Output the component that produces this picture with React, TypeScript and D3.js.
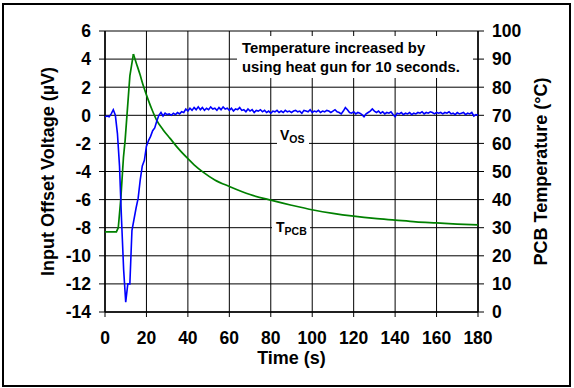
import React from "react";
import * as d3 from "d3";

const xTicks = [0, 20, 40, 60, 80, 100, 120, 140, 160, 180];
const leftTicks = [-14, -12, -10, -8, -6, -4, -2, 0, 2, 4, 6];
const rightTicks = [0, 10, 20, 30, 40, 50, 60, 70, 80, 90, 100];

// V_OS (µV), sampled every 1 s from 0 to 180 s
const vosValues = [
  -0.1, -0.05, -0.1, 0.1, 0.4, 0.0, -1.3, -3.6, -7.5, -11.0, -13.3, -12.0, -12.0, -8.2, -7.4, -6.6, -5.9, -4.6, -3.6, -3.2, -2.2, -1.8, -1.5, -1.1, -0.9, -0.4, 0.0, 0.2, -0.05, 0.15, 0.05,
  0.1, 0.0, 0.15, 0.05, 0.2, 0.1, 0.25, 0.2, 0.45, 0.3, 0.5, 0.35, 0.55, 0.4, 0.6,
  0.4, 0.55, 0.35, 0.5, 0.4, 0.6, 0.45, 0.5, 0.35, 0.55, 0.4, 0.6, 0.45, 0.5, 0.35,
  0.5, 0.3, 0.45, 0.4, 0.55, 0.35, 0.4, 0.25, 0.45, 0.3, 0.4, 0.2, 0.35, 0.3, 0.4,
  0.25, 0.35, 0.2, 0.3, 0.15, 0.3, 0.25, 0.35, 0.2, 0.3, 0.2, 0.35, 0.25, 0.3, 0.2,
  0.3, 0.35, 0.25, 0.3, 0.15, 0.35, 0.3, 0.25, 0.4, 0.2, 0.3, 0.25, 0.35, 0.2, 0.3,
  0.25, 0.35, 0.3, 0.2, 0.3, 0.4, 0.25, 0.2, 0.1, 0.3, 0.55, 0.4, 0.2, 0.15, 0.25,
  0.1, 0.2, 0.15, 0.05, -0.1, 0.1, 0.2, 0.3, 0.45, 0.3, 0.2, 0.3, 0.15, 0.25, 0.1,
  0.2, 0.15, 0.25, 0.05, -0.1, 0.15, 0.1, 0.2, 0.05, 0.15, 0.1, 0.2, 0.05, 0.15, 0.1,
  0.2, 0.15, 0.25, 0.1, 0.2, 0.15, 0.25, 0.2, 0.1, 0.2, 0.15, 0.2, 0.1, 0.2, 0.15,
  0.25, 0.1, 0.15, 0.05, 0.2, 0.1, 0.15, 0.2, 0.05, 0.15, 0.1, 0.2, -0.05, 0.05, 0.0,
];

// T_PCB (°C): heating phase and cooling phase (cooling starts at the peak)
const heatTimes = [0, 5.5, 6.4, 7.6, 8.9, 9.7, 12, 13.7];
const heatValues = [28.5, 28.5, 30, 40, 55, 61, 84, 91.8];
const coolTimes = [13.7, 15, 16.9, 18.5, 20.9, 22.8, 24.9, 28, 31.4, 35, 39.4, 43, 47.5, 53, 60.3, 70, 80, 90, 100.5, 110, 120, 130, 140, 150, 160, 170, 180];
const coolValues = [91.8, 88.8, 84.5, 80.5, 75.4, 71.8, 68.3, 64.9, 61.8, 58.5, 55.0, 52.4, 49.7, 47.0, 44.6, 41.8, 39.8, 38.0, 36.3, 35.1, 34.1, 33.3, 32.7, 32.1, 31.7, 31.3, 31.0];

const FONT = "'Liberation Sans', Arial, sans-serif";

export default function App() {
  const x = d3.scaleLinear().domain([0, 180]).range([105, 478]);
  const yL = d3.scaleLinear().domain([-14, 6]).range([312, 31]);
  const yR = d3.scaleLinear().domain([0, 100]).range([312, 31]);

  const vosData = vosValues.map((v, i) => [i, v] as [number, number]);
  const heatData = heatTimes.map((t, i) => [t, heatValues[i]] as [number, number]);
  const coolData = coolTimes.map((t, i) => [t, coolValues[i]] as [number, number]);

  const vosLine = d3.line<[number, number]>().x((d) => x(d[0])).y((d) => yL(d[1]));
  const heatLine = d3.line<[number, number]>().x((d) => x(d[0])).y((d) => yR(d[1]));
  const coolLine = d3.line<[number, number]>().x((d) => x(d[0])).y((d) => yR(d[1])).curve(d3.curveMonotoneX);

  const [x0, x1] = x.range();
  const yTop = yL(6);
  const yBot = yL(-14);

  return (
    <svg width={574} height={388} style={{ position: "absolute", left: 0, top: 0, background: "#fff" }} fontFamily={FONT} fontWeight="bold">
      <rect x={0} y={0} width={574} height={388} fill="#fff" />
      <rect x={3} y={4} width={567} height={382} fill="none" stroke="#000" strokeWidth={2} />

      {/* grid */}
      {leftTicks.map((t) => (
        <line key={"h" + t} x1={x0} x2={x1} y1={yL(t)} y2={yL(t)} stroke="#000" strokeWidth={1} />
      ))}
      {xTicks.map((t) => (
        <line key={"v" + t} x1={x(t)} x2={x(t)} y1={yTop} y2={yBot} stroke="#000" strokeWidth={1} />
      ))}

      {/* annotation box */}
      <rect x={237} y={36} width={236} height={42} fill="#fff" />
      <text x={242} y={52.5} fontSize={14.8} fill="#000">Temperature increased by</text>
      <text x={242} y={71.5} fontSize={14.8} fill="#000">using heat gun for 10 seconds.</text>

      {/* series labels */}
      <rect x={277} y={128} width={32} height={18} fill="#fff" />
      <text x={280} y={140} fontSize={14} fill="#000">
        V<tspan fontSize={10.5} dy={3}>OS</tspan>
      </text>
      <rect x={272} y={219} width={38} height={18} fill="#fff" />
      <text x={276} y={232} fontSize={14} fill="#000">
        T<tspan fontSize={10.5} dy={3}>PCB</tspan>
      </text>

      {/* axes */}
      <line x1={x0} x2={x0} y1={yTop} y2={yBot} stroke="#000" strokeWidth={1.5} />
      <line x1={x1} x2={x1} y1={yTop} y2={yBot} stroke="#000" strokeWidth={1.5} />
      <line x1={x0} x2={x1} y1={yBot} y2={yBot} stroke="#000" strokeWidth={1.5} />
      {leftTicks.map((t) => (
        <g key={"lt" + t}>
          <line x1={x0 - 6} x2={x0} y1={yL(t)} y2={yL(t)} stroke="#000" />
          <text x={91} y={yL(t)} dy="0.36em" textAnchor="end" fontSize={17.5}>{t}</text>
        </g>
      ))}
      {rightTicks.map((t) => (
        <g key={"rt" + t}>
          <line x1={x1} x2={x1 + 6} y1={yR(t)} y2={yR(t)} stroke="#000" />
          <text x={492} y={yR(t)} dy="0.36em" textAnchor="start" fontSize={17.5}>{t}</text>
        </g>
      ))}
      {xTicks.map((t) => (
        <g key={"bt" + t}>
          <line x1={x(t)} x2={x(t)} y1={yBot} y2={yBot + 5} stroke="#000" />
          <text x={x(t)} y={344} textAnchor="middle" fontSize={17.5}>{t}</text>
        </g>
      ))}

      {/* axis titles */}
      <text x={(x0 + x1) / 2} y={364} textAnchor="middle" fontSize={18}>Time (s)</text>
      <text transform={`translate(54,${(yTop + yBot) / 2}) rotate(-90)`} textAnchor="middle" fontSize={18}>Input Offset Voltage (µV)</text>
      <text transform={`translate(547,${(yTop + yBot) / 2}) rotate(-90)`} textAnchor="middle" fontSize={18}>PCB Temperature (°C)</text>

      {/* series */}
      <path d={heatLine(heatData) || ""} fill="none" stroke="#008000" strokeWidth={1.7} />
      <path d={coolLine(coolData) || ""} fill="none" stroke="#008000" strokeWidth={1.7} />
      <path d={vosLine(vosData) || ""} fill="none" stroke="#0000ff" strokeWidth={1.6} />
    </svg>
  );
}
